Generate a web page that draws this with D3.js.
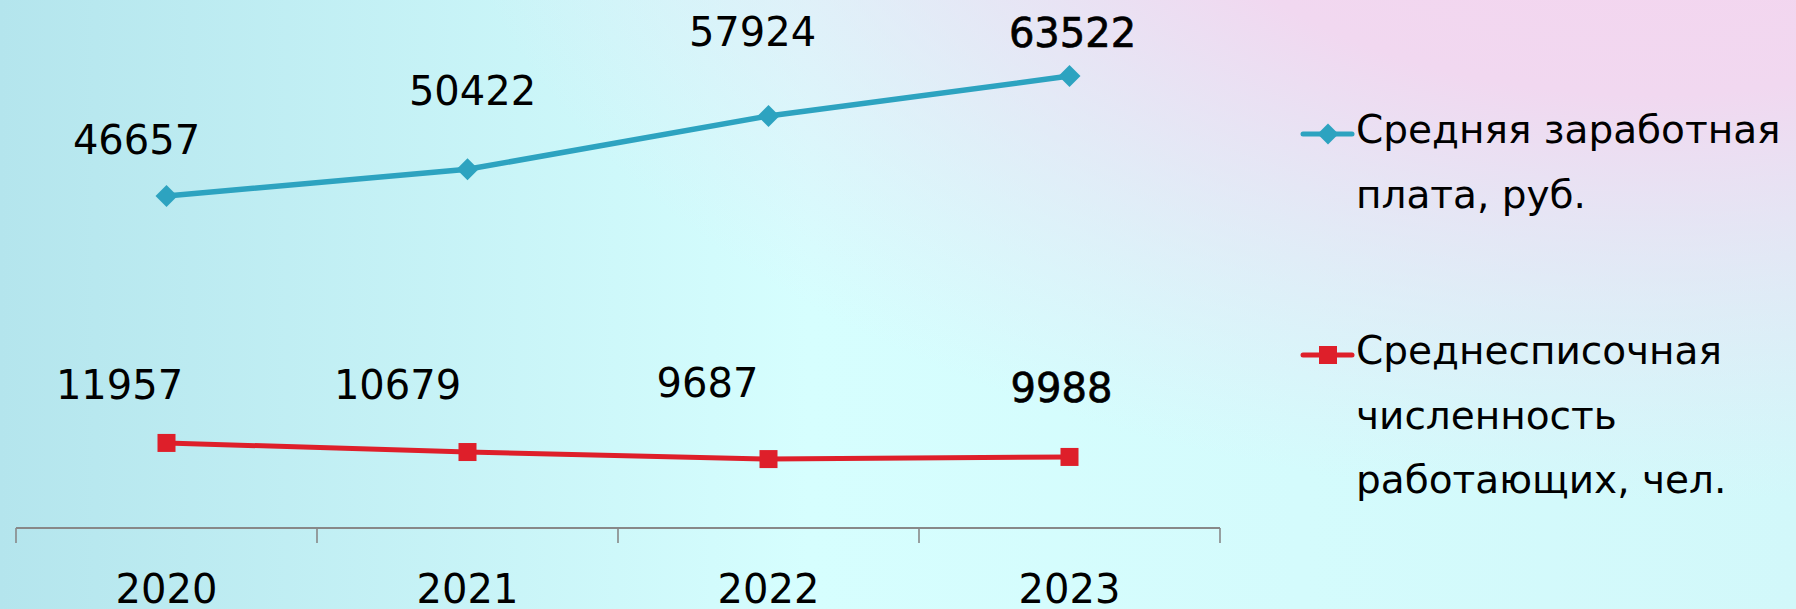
<!DOCTYPE html>
<html><head><meta charset="utf-8">
<script src="https://cdn.jsdelivr.net/npm/d3@7"></script>
<style>html,body{margin:0;padding:0;overflow:hidden;}svg{display:block;}</style>
</head><body>
<svg id="chart" width="1796" height="609"></svg>
<script>
const years = ["2020", "2021", "2022", "2023"];
const salary = [46657, 50422, 57924, 63522];
const staff = [11957, 10679, 9687, 9988];
const seriesNames = [["Средняя заработная", "плата, руб."], ["Среднесписочная", "численность", "работающих, чел."]];
// manual label offsets (dx, dy) relative to each point, as in the source
const salaryLabelOffsets = [[-30, -42], [5, -64], [-16, -70], [3, -29]];
const staffLabelOffsets = [[-47, -44], [-70, -53], [-61, -62], [-8, -55]];
const boldLast = true;

const W = 1796, H = 609;
const svg = d3.select("#chart");
const defs = svg.append("defs");

const g1 = defs.append("linearGradient").attr("id", "bg").attr("gradientUnits", "userSpaceOnUse")
  .attr("x1", 0).attr("y1", 300).attr("x2", 1796).attr("y2", 300);
g1.append("stop").attr("offset", "0").attr("stop-color", "#b4e5ed");
g1.append("stop").attr("offset", "0.45").attr("stop-color", "#d6fefe");
g1.append("stop").attr("offset", "1").attr("stop-color", "#d2f8fa");
const g2 = defs.append("radialGradient").attr("id", "pink").attr("gradientUnits", "userSpaceOnUse")
  .attr("cx", 1650).attr("cy", -200).attr("r", 900)
  .attr("gradientTransform", "translate(1650,-200) scale(1.35,0.78) translate(-1650,200)");
g2.append("stop").attr("offset", "0").attr("stop-color", "#f6d2ee").attr("stop-opacity", 1);
g2.append("stop").attr("offset", "0.42").attr("stop-color", "#f1d8f0").attr("stop-opacity", 1);
g2.append("stop").attr("offset", "1").attr("stop-color", "#e8e4f4").attr("stop-opacity", 0);

svg.append("rect").attr("width", W).attr("height", H).attr("fill", "url(#bg)");
svg.append("rect").attr("width", W).attr("height", H).attr("fill", "url(#pink)");

const font = "'DejaVu Sans', Verdana, sans-serif";
const x = d3.scaleBand().domain(years).range([16, 1220]).padding(0);
const y = d3.scaleLinear().domain([0, 70000]).range([528, 30]);

// axis
const axis = d3.axisBottom(x).tickSize(0).tickPadding(0);
const ax = svg.append("g").attr("transform", `translate(0,${y(0)})`).call(axis);
ax.select(".domain").remove();
ax.selectAll(".tick text").remove();
svg.append("line").attr("x1", x.range()[0]).attr("x2", x.range()[1])
  .attr("y1", y(0)).attr("y2", y(0)).attr("stroke", "#888").attr("stroke-width", 2.2);
const edges = years.map(d => x(d)).concat([x.range()[1]]);
svg.selectAll(".edge").data(edges).enter().append("line")
  .attr("x1", d => d).attr("x2", d => d).attr("y1", y(0)).attr("y2", y(0) + 15)
  .attr("stroke", "#888").attr("stroke-width", 1.6);
svg.selectAll(".xl").data(years).enter().append("text")
  .attr("x", d => x(d) + x.bandwidth() / 2).attr("y", 603)
  .attr("text-anchor", "middle").attr("font-family", font).attr("font-size", 40)
  .attr("fill", "#000").text(d => d);

const cx = d => x(d) + x.bandwidth() / 2;
const line = d3.line().x((d, i) => cx(years[i])).y(d => y(d));
const diamondPath = r => `M0,${-r}L${r},0L0,${r}L${-r},0Z`;

const blue = "#2da3c0", red = "#de1f2a";
svg.append("path").datum(salary).attr("d", line).attr("fill", "none")
  .attr("stroke", blue).attr("stroke-width", 5.5);
svg.selectAll(".dm").data(salary).enter().append("path")
  .attr("d", diamondPath(11))
  .attr("transform", (d, i) => `translate(${cx(years[i])},${y(d)})`)
  .attr("fill", blue);

svg.append("path").datum(staff).attr("d", line).attr("fill", "none")
  .attr("stroke", red).attr("stroke-width", 5);
svg.selectAll(".sq").data(staff).enter().append("rect")
  .attr("x", (d, i) => cx(years[i]) - 9).attr("y", d => y(d) - 9)
  .attr("width", 18).attr("height", 18).attr("fill", red);

function labels(data, offs) {
  svg.selectAll(null).data(data).enter().append("text")
    .attr("x", (d, i) => cx(years[i]) + offs[i][0])
    .attr("y", (d, i) => y(d) + offs[i][1])
    .attr("text-anchor", "middle").attr("font-family", font).attr("font-size", 40)
    .attr("fill", "#000")
    .attr("stroke", (d, i) => (boldLast && i === data.length - 1) ? "#000" : "none")
    .attr("stroke-width", 0.7)
    .text(d => d);
}
labels(salary, salaryLabelOffsets);
labels(staff, staffLabelOffsets);

// legend
const legendY = [134, 355];
const colors = [blue, red];
const lg = svg.append("g");
legendY.forEach((ly, k) => {
  lg.append("line").attr("x1", 1303).attr("x2", 1352).attr("y1", ly).attr("y2", ly)
    .attr("stroke", colors[k]).attr("stroke-width", 5).attr("stroke-linecap", "round");
  if (k === 0) {
    lg.append("path").attr("d", diamondPath(10.5))
      .attr("transform", `translate(1328,${ly})`).attr("fill", colors[k]);
  } else {
    lg.append("rect").attr("x", 1319).attr("y", ly - 9).attr("width", 18).attr("height", 18).attr("fill", colors[k]);
  }
  const t = lg.append("text").attr("font-family", font).attr("font-size", 39).attr("fill", "#000");
  seriesNames[k].forEach((s, j) => {
    t.append("tspan").attr("x", 1356).attr("y", ly + 9 + j * 64.7).text(s);
  });
});
</script>
</body></html>
